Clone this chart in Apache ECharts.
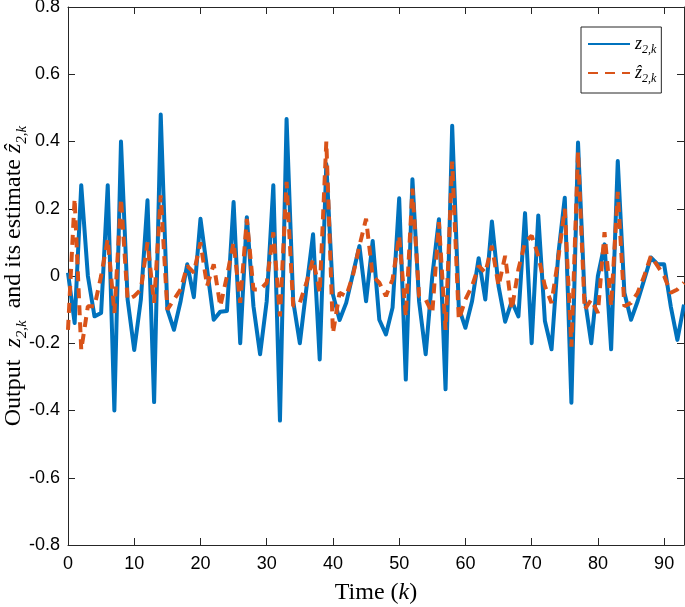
<!DOCTYPE html>
<html>
<head>
<meta charset="utf-8">
<script src="https://cdn.jsdelivr.net/npm/echarts@6/dist/echarts.min.js"></script>
<style>
  html, body { margin: 0; padding: 0; background: #fff; }
  #chart { width: 685px; height: 607px; }
</style>
</head>
<body>
<div id="chart"></div>
<script>
// output z_{2,k} (solid blue), k = 0..93
const zOut = [
  0.01, -0.14, 0.27, 0.0, -0.12, -0.11, 0.27, -0.40, 0.40, -0.07,
  -0.22, -0.07, 0.225, -0.375, 0.48, -0.10, -0.16, -0.075, 0.035, -0.063,
  0.17, 0.02, -0.13, -0.106, -0.104, 0.22, -0.20, 0.175, -0.09, -0.233,
  -0.075, 0.27, -0.43, 0.467, -0.075, -0.20, -0.035, 0.124, -0.248, 0.333,
  -0.055, -0.131, -0.08, 0.005, 0.089, -0.075, 0.104, -0.13, -0.174, -0.094,
  0.231, -0.308, 0.288, -0.075, -0.233, 0.0, 0.169, -0.337, 0.447, -0.094,
  -0.154, -0.075, 0.053, -0.07, 0.162, -0.03, -0.136, -0.075, -0.12, 0.187,
  -0.20, 0.18, -0.134, -0.218, 0.06, 0.233, -0.377, 0.397, -0.065, -0.20,
  0.0, 0.094, -0.218, 0.342, -0.05, -0.13, -0.075, -0.01, 0.055, 0.035,
  0.035, -0.09, -0.19, -0.085
]
// estimate zhat_{2,k} (dashed orange)
const zEst = [
  -0.16, 0.23, -0.22, -0.09, -0.09, 0.0, 0.11, -0.11, 0.23, -0.07,
  -0.06, -0.04, 0.10, -0.08, 0.24, -0.10, -0.07, -0.04, 0.03, 0.01,
  0.10, -0.03, 0.035, -0.09, 0.0, 0.10, -0.08, 0.17, -0.04, -0.04,
  -0.02, 0.13, -0.12, 0.28, -0.09, -0.08, -0.02, 0.05, -0.05, 0.40,
  -0.17, -0.05, -0.06, 0.0, 0.09, 0.17, 0.0, -0.02, -0.06, -0.01,
  0.12, -0.12, 0.26, -0.06, -0.07, -0.11, 0.16, -0.16, 0.34, -0.13,
  -0.07, -0.03, 0.03, 0.01, 0.09, -0.03, 0.06, -0.10, 0.02, 0.10,
  0.12, 0.06, -0.03, -0.08, 0.05, 0.20, -0.21, 0.37, -0.10, -0.07,
  -0.11, 0.13, -0.09, 0.25, -0.09, -0.08, -0.05, 0.0, 0.06, 0.03,
  0.0, -0.05, -0.04, -0.02
]
const xTicks = [0, 10, 20, 30, 40, 50, 60, 70, 80, 90]
const yTicks = [-0.8, -0.6, -0.4, -0.2, 0, 0.2, 0.4, 0.6, 0.8]

const axisColor = '#262626'
const serif = '"Liberation Serif", "DejaVu Serif", serif'
const sans = '"Liberation Sans", Arial, sans-serif'

const chart = echarts.init(document.getElementById('chart'))

const tickStyle = { inside: true, length: 7, lineStyle: { color: axisColor, width: 1 } }
const lineStyleAxis = { show: true, onZero: false, lineStyle: { color: axisColor, width: 1 } }

const subRich = {
  i: { fontFamily: serif, fontStyle: 'italic', fontSize: 24, lineHeight: 32, color: '#000' },
  s: { fontFamily: serif, fontStyle: 'italic', fontSize: 15, lineHeight: 12, verticalAlign: 'bottom', color: '#000' },
  t: { fontFamily: serif, fontSize: 24, lineHeight: 32, color: '#000' }
}
const legRich = {
  i: { fontFamily: serif, fontStyle: 'italic', fontSize: 18, lineHeight: 24, color: '#000' },
  s: { fontFamily: serif, fontStyle: 'italic', fontSize: 12, lineHeight: 10, verticalAlign: 'bottom', color: '#000' }
}

const option = {
  animation: false,
  backgroundColor: '#fff',
  grid: { left: 68, right: 1, top: 7, bottom: 62, containLabel: false, outerBoundsMode: 'none' },
  legend: {
    left: 581,
    top: 27,
    orient: 'vertical',
    itemWidth: 42,
    itemHeight: 14,
    itemGap: 8,
    padding: [8, 5, 8, 6],
    borderColor: axisColor,
    borderWidth: 1,
    backgroundColor: '#fff',
    data: ['z', 'zhat'],
    itemStyle: { color: 'rgba(0,0,0,0)', borderWidth: 0, opacity: 0 },
    formatter: name => name === 'z' ? '{i|z}{s|2,k}' : '{i|ẑ}{s|2,k}',
    textStyle: { rich: legRich }
  },
  xAxis: [
    {
      type: 'value',
      min: 0,
      max: 93,
      interval: 10,
      position: 'bottom',
      axisLine: lineStyleAxis,
      axisTick: tickStyle,
      splitLine: { show: false },
      axisLabel: {
        margin: 10,
        fontFamily: sans,
        fontSize: 18,
        color: '#000',
        formatter: v => xTicks.includes(v) ? String(v) : ''
      },
      name: '{t|Time (}{i|k}{t|)}',
      nameLocation: 'middle',
      nameGap: 32,
      nameMoveOverlap: false,
      nameTextStyle: { rich: subRich }
    },
    {
      type: 'value',
      min: 0,
      max: 93,
      interval: 10,
      position: 'top',
      axisLine: lineStyleAxis,
      axisTick: tickStyle,
      axisLabel: { show: false },
      splitLine: { show: false }
    }
  ],
  yAxis: [
    {
      type: 'value',
      min: -0.8,
      max: 0.8,
      interval: 0.2,
      position: 'left',
      axisLine: lineStyleAxis,
      axisTick: tickStyle,
      splitLine: { show: false },
      axisLabel: {
        margin: 8,
        fontFamily: sans,
        fontSize: 18,
        color: '#000',
        formatter: v => {
          const t = yTicks.find(y => Math.abs(y - v) < 1e-6)
          if (t === undefined) return ''
          return t === 0 ? '0' : t.toFixed(1)
        }
      },
      name: '{t|Output  }{i|z}{s|2,k}{t|  and its estimate }{i|ẑ}{s|2,k}',
      nameLocation: 'middle',
      nameRotate: 90,
      nameGap: 38,
      nameMoveOverlap: false,
      nameTextStyle: { rich: subRich }
    },
    {
      type: 'value',
      min: -0.8,
      max: 0.8,
      interval: 0.2,
      position: 'right',
      axisLine: lineStyleAxis,
      axisTick: tickStyle,
      axisLabel: { show: false },
      splitLine: { show: false }
    }
  ],
  series: [
    {
      name: 'z',
      type: 'line',
      xAxisIndex: 0,
      yAxisIndex: 0,
      data: zOut.map((v, k) => [k, v]),
      symbol: 'none',
      lineStyle: { color: '#0072BD', width: 4, join: 'round' },
      itemStyle: { color: '#0072BD' }
    },
    {
      name: 'zhat',
      type: 'line',
      xAxisIndex: 0,
      yAxisIndex: 0,
      data: zEst.map((v, k) => [k, v]),
      symbol: 'none',
      lineStyle: { color: '#D95319', width: 4, type: [10, 7] },
      itemStyle: { color: '#D95319' }
    }
  ]
}

chart.setOption(option)
</script>
</body>
</html>
